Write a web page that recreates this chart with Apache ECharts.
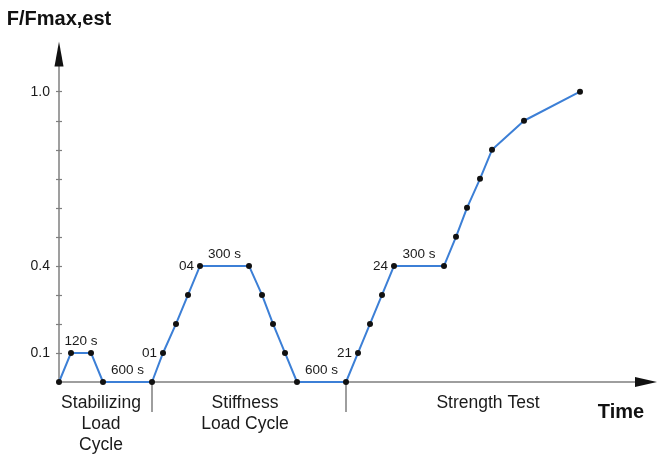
<!DOCTYPE html>
<html>
<head>
<meta charset="utf-8">
<script src="https://cdn.jsdelivr.net/npm/echarts@6/dist/echarts.min.js"></script>
<style>
  html, body { margin: 0; padding: 0; background: #fff; }
  #chart { width: 657px; height: 456px; }
</style>
</head>
<body>
<div id="chart"></div>
<script>
// Load protocol: time position (arbitrary units) and relative load F/Fmax,est
const timePos = [0, 12, 32, 44, 93, 104, 117, 129, 141, 190, 203, 214, 226, 238,
                 287, 299, 311, 323, 335, 385, 397, 408, 421, 433, 465, 521];
const loadRatio = [0, 0.1, 0.1, 0, 0, 0.1, 0.2, 0.3, 0.4, 0.4, 0.3, 0.2, 0.1, 0,
                   0, 0.1, 0.2, 0.3, 0.4, 0.4, 0.5, 0.6, 0.7, 0.8, 0.9, 1.0];

// Hold durations, written over the segment between two points
const holdTexts = ['120 s', '600 s', '300 s', '600 s', '300 s'];
const holdSegments = [[1, 2], [3, 4], [8, 9], [13, 14], [18, 19]];

// Load step numbers, written to the left of a point
const stepTexts = ['01', '04', '21', '24'];
const stepPoints = [5, 8, 15, 18];

// Phase names under the time axis and the boundaries between phases
const phaseNames = ['Stabilizing\nLoad\nCycle', 'Stiffness\nLoad Cycle', 'Strength Test'];
const phaseCenters = [42, 186, 429];
const phaseBounds = [93, 287];

// Y axis ticks and labels
const yTicks = [0.1, 0.2, 0.3, 0.4, 0.5, 0.6, 0.7, 0.8, 0.9, 1.0];
const yLabels = [0.1, 0.4, 1.0];

const X_MAX = 587;
const Y_MAX = 1.13;
const axisGray = '#7f7f7f';
const lineBlue = '#3c7fd6';
const font = 'Liberation Sans, Arial, sans-serif';

const chart = echarts.init(document.getElementById('chart'), null, { renderer: 'canvas' });

const mainData = timePos.map((t, i) => {
  const k = stepPoints.indexOf(i);
  const item = { value: [t, loadRatio[i]] };
  if (k >= 0) {
    item.label = {
      show: true,
      position: 'left',
      distance: 3,
      formatter: stepTexts[k],
      fontSize: 13.5,
      color: '#1a1a1a',
      fontFamily: font
    };
  }
  return item;
});

const holdData = holdSegments.map((seg, k) => ({
  value: [(timePos[seg[0]] + timePos[seg[1]]) / 2, (loadRatio[seg[0]] + loadRatio[seg[1]]) / 2],
  label: { formatter: holdTexts[k] }
}));

chart.setOption({
  animation: false,
  backgroundColor: '#fff',
  grid: { left: 59, right: 11, top: 54, bottom: 73.5, containLabel: false },
  xAxis: [
    {
      type: 'value', position: 'bottom', min: 0, max: X_MAX,
      name: 'Time', nameLocation: 'end', nameGap: -25,
      nameTextStyle: {
        fontSize: 20, fontWeight: 'bold', color: '#111', fontFamily: font,
        align: 'center', verticalAlign: 'top', padding: [20, 0, 0, 0]
      },
      axisLine: { show: true, onZero: false, lineStyle: { color: axisGray, width: 1.5 } },
      axisTick: {
        show: true, inside: false, length: 30, customValues: phaseBounds,
        lineStyle: { color: axisGray, width: 1.5 }
      },
      axisLabel: {
        show: true, customValues: phaseCenters, margin: 11,
        formatter: (v) => phaseNames[phaseCenters.indexOf(v)] || '',
        fontSize: 17.5, lineHeight: 21, color: '#1a1a1a', fontFamily: font, align: 'center'
      },
      splitLine: { show: false }
    },
    {
      // arrow head of the time axis
      type: 'value', position: 'bottom', min: 0, max: X_MAX,
      axisLine: { show: true, onZero: false, symbol: ['none', 'triangle'], symbolSize: [10, 22],
                  lineStyle: { color: '#111', width: 0 } },
      axisTick: { show: false }, axisLabel: { show: false }, splitLine: { show: false }
    }
  ],
  yAxis: [
    {
      type: 'value', position: 'left', min: 0, max: Y_MAX,
      name: 'F/Fmax,est', nameLocation: 'end', nameGap: 25,
      nameTextStyle: { fontSize: 20, fontWeight: 'bold', color: '#111', fontFamily: font, align: 'center' },
      axisLine: { show: true, onZero: false, lineStyle: { color: axisGray, width: 1.5 } },
      axisTick: { show: true, inside: false, length: 3, customValues: yTicks,
                  lineStyle: { color: axisGray, width: 1.2 } },
      axisLabel: {
        show: true, customValues: yLabels, margin: 9,
        formatter: (v) => v.toFixed(1),
        fontSize: 14, color: '#1a1a1a', fontFamily: font
      },
      splitLine: { show: false }
    },
    {
      // arrow head of the load axis, plus inner half of the ticks
      type: 'value', position: 'left', min: 0, max: Y_MAX,
      axisLine: { show: true, onZero: false, symbol: ['none', 'triangle'], symbolSize: [9, 25],
                  lineStyle: { color: '#111', width: 0 } },
      axisTick: { show: true, inside: true, length: 3, customValues: yTicks,
                  lineStyle: { color: axisGray, width: 1.2 } },
      axisLabel: { show: false }, splitLine: { show: false }
    }
  ],
  series: [
    {
      type: 'line',
      xAxisIndex: 0, yAxisIndex: 0,
      data: mainData,
      showSymbol: true,
      symbol: 'circle',
      symbolSize: 6,
      clip: false,
      lineStyle: { color: lineBlue, width: 2 },
      itemStyle: { color: '#111', borderWidth: 0 },
      z: 3
    },
    {
      type: 'scatter',
      xAxisIndex: 0, yAxisIndex: 0,
      data: holdData,
      symbolSize: 0,
      silent: true,
      itemStyle: { opacity: 1 },
      label: {
        show: true, position: 'top', distance: 5,
        fontSize: 13.5, color: '#1a1a1a', fontFamily: font
      },
      z: 4
    }
  ]
});
</script>
</body>
</html>
